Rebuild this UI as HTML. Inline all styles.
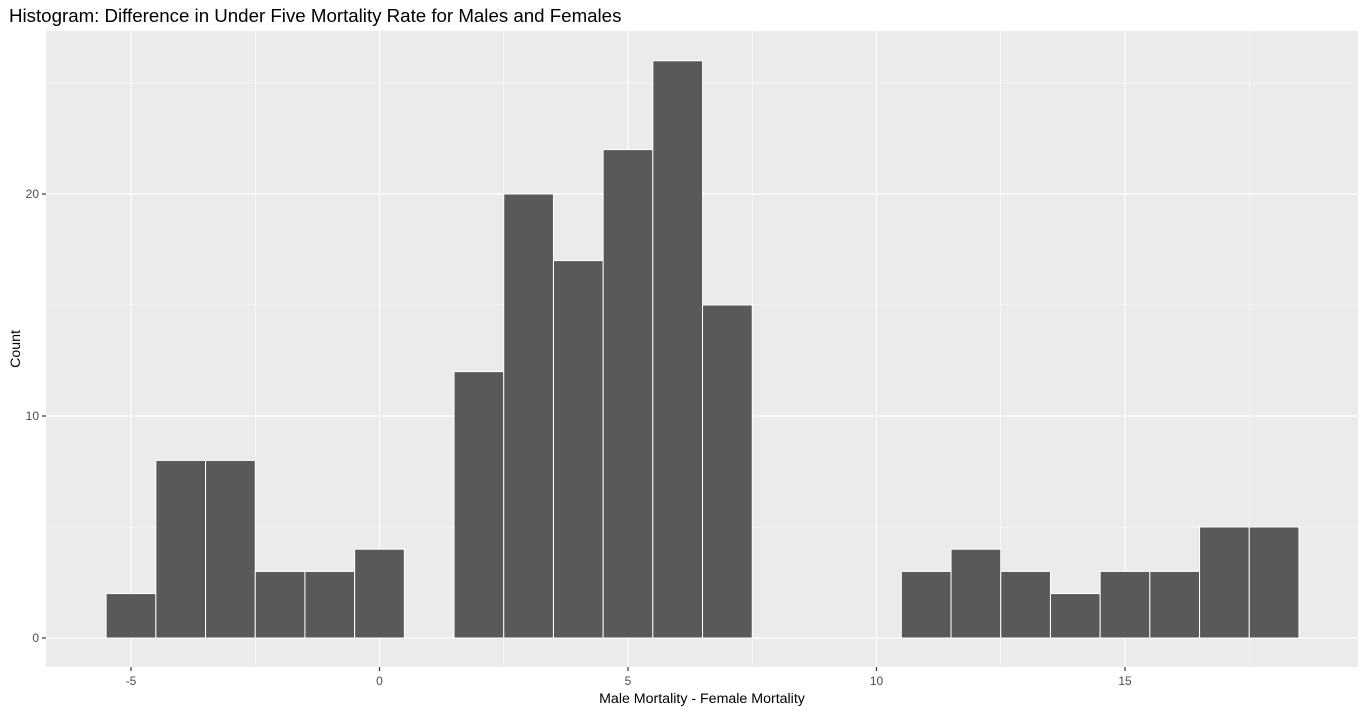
<!DOCTYPE html>
<html><head><meta charset="utf-8"><style>
body{margin:0;background:#fff;}
svg{display:block;font-family:"Liberation Sans",Arial,sans-serif;}
</style></head><body>
<svg id="chart" width="1365" height="712">
<text x="9" y="22" font-size="18.7" fill="#000">Histogram: Difference in Under Five Mortality Rate for Males and Females</text>
<rect x="46" y="31" width="1312" height="636" fill="#ebebeb"/>
<g id="grid"></g>
<g id="bars"></g>
<g id="axes"></g>
<text x="702" y="703" font-size="14.2" text-anchor="middle" fill="#000">Male Mortality - Female Mortality</text>
<text transform="translate(20,349) rotate(-90)" font-size="14.2" text-anchor="middle" fill="#000">Count</text>
</svg>
<script>
const binCenters=[-5,-4,-3,-2,-1,0,1,2,3,4,5,6,7,8,9,10,11,12,13,14,15,16,17,18];
const counts=[2,8,8,3,3,4,0,12,20,17,22,26,15,0,0,0,3,4,3,2,3,3,5,5];
const xTicks=[-5,0,5,10,15];
const yTicks=[0,10,20];
const NS="http://www.w3.org/2000/svg";
const x=v=>379.5+(v)*49.7;
const y=v=>638-v*22.2;
function mk(tag,attrs,parent){const e=document.createElementNS(NS,tag);for(const k in attrs)e.setAttribute(k,attrs[k]);parent.appendChild(e);return e;}
const grid=document.getElementById('grid'),bars=document.getElementById('bars'),axes=document.getElementById('axes');
for(let i=0;i<xTicks.length+1;i++){const v=xTicks[0]-2.5+i*5;const xv=x(v);if(xv>46&&xv<1358){const l=mk('line',{x1:xv,x2:xv,y1:31,y2:667,stroke:'#fff','stroke-width':0.6},grid);}}
for(let v=5;v<=25;v+=10){const l=mk('line',{x1:46,x2:1358,y1:y(v),y2:y(v),stroke:'#fff','stroke-width':0.6},grid);}
xTicks.forEach(v=>{const l=mk('line',{x1:x(v),x2:x(v),y1:31,y2:667,stroke:'#fff','stroke-width':1.2},grid);
const t=mk('line',{x1:x(v),x2:x(v),y1:667,y2:671,stroke:'#333','stroke-width':1.2},axes);
const tx=mk('text',{x:x(v),y:685,'font-size':12,'text-anchor':'middle',fill:'#4d4d4d'},axes);tx.textContent=v;});
yTicks.forEach(v=>{const l=mk('line',{x1:46,x2:1358,y1:y(v),y2:y(v),stroke:'#fff','stroke-width':1.2},grid);
const t=mk('line',{x1:42,x2:46,y1:y(v),y2:y(v),stroke:'#333','stroke-width':1.2},axes);
const tx=mk('text',{x:39,y:y(v)+4,'font-size':12,'text-anchor':'end',fill:'#4d4d4d'},axes);tx.textContent=v;});
binCenters.forEach((c,i)=>{if(counts[i]<=0)return;const r=mk('rect',{x:x(c-0.5),y:y(counts[i]),width:x(c+0.5)-x(c-0.5),height:y(0)-y(counts[i]),fill:'#595959',stroke:'#fff','stroke-width':1},bars);

});
</script>
</body></html>
